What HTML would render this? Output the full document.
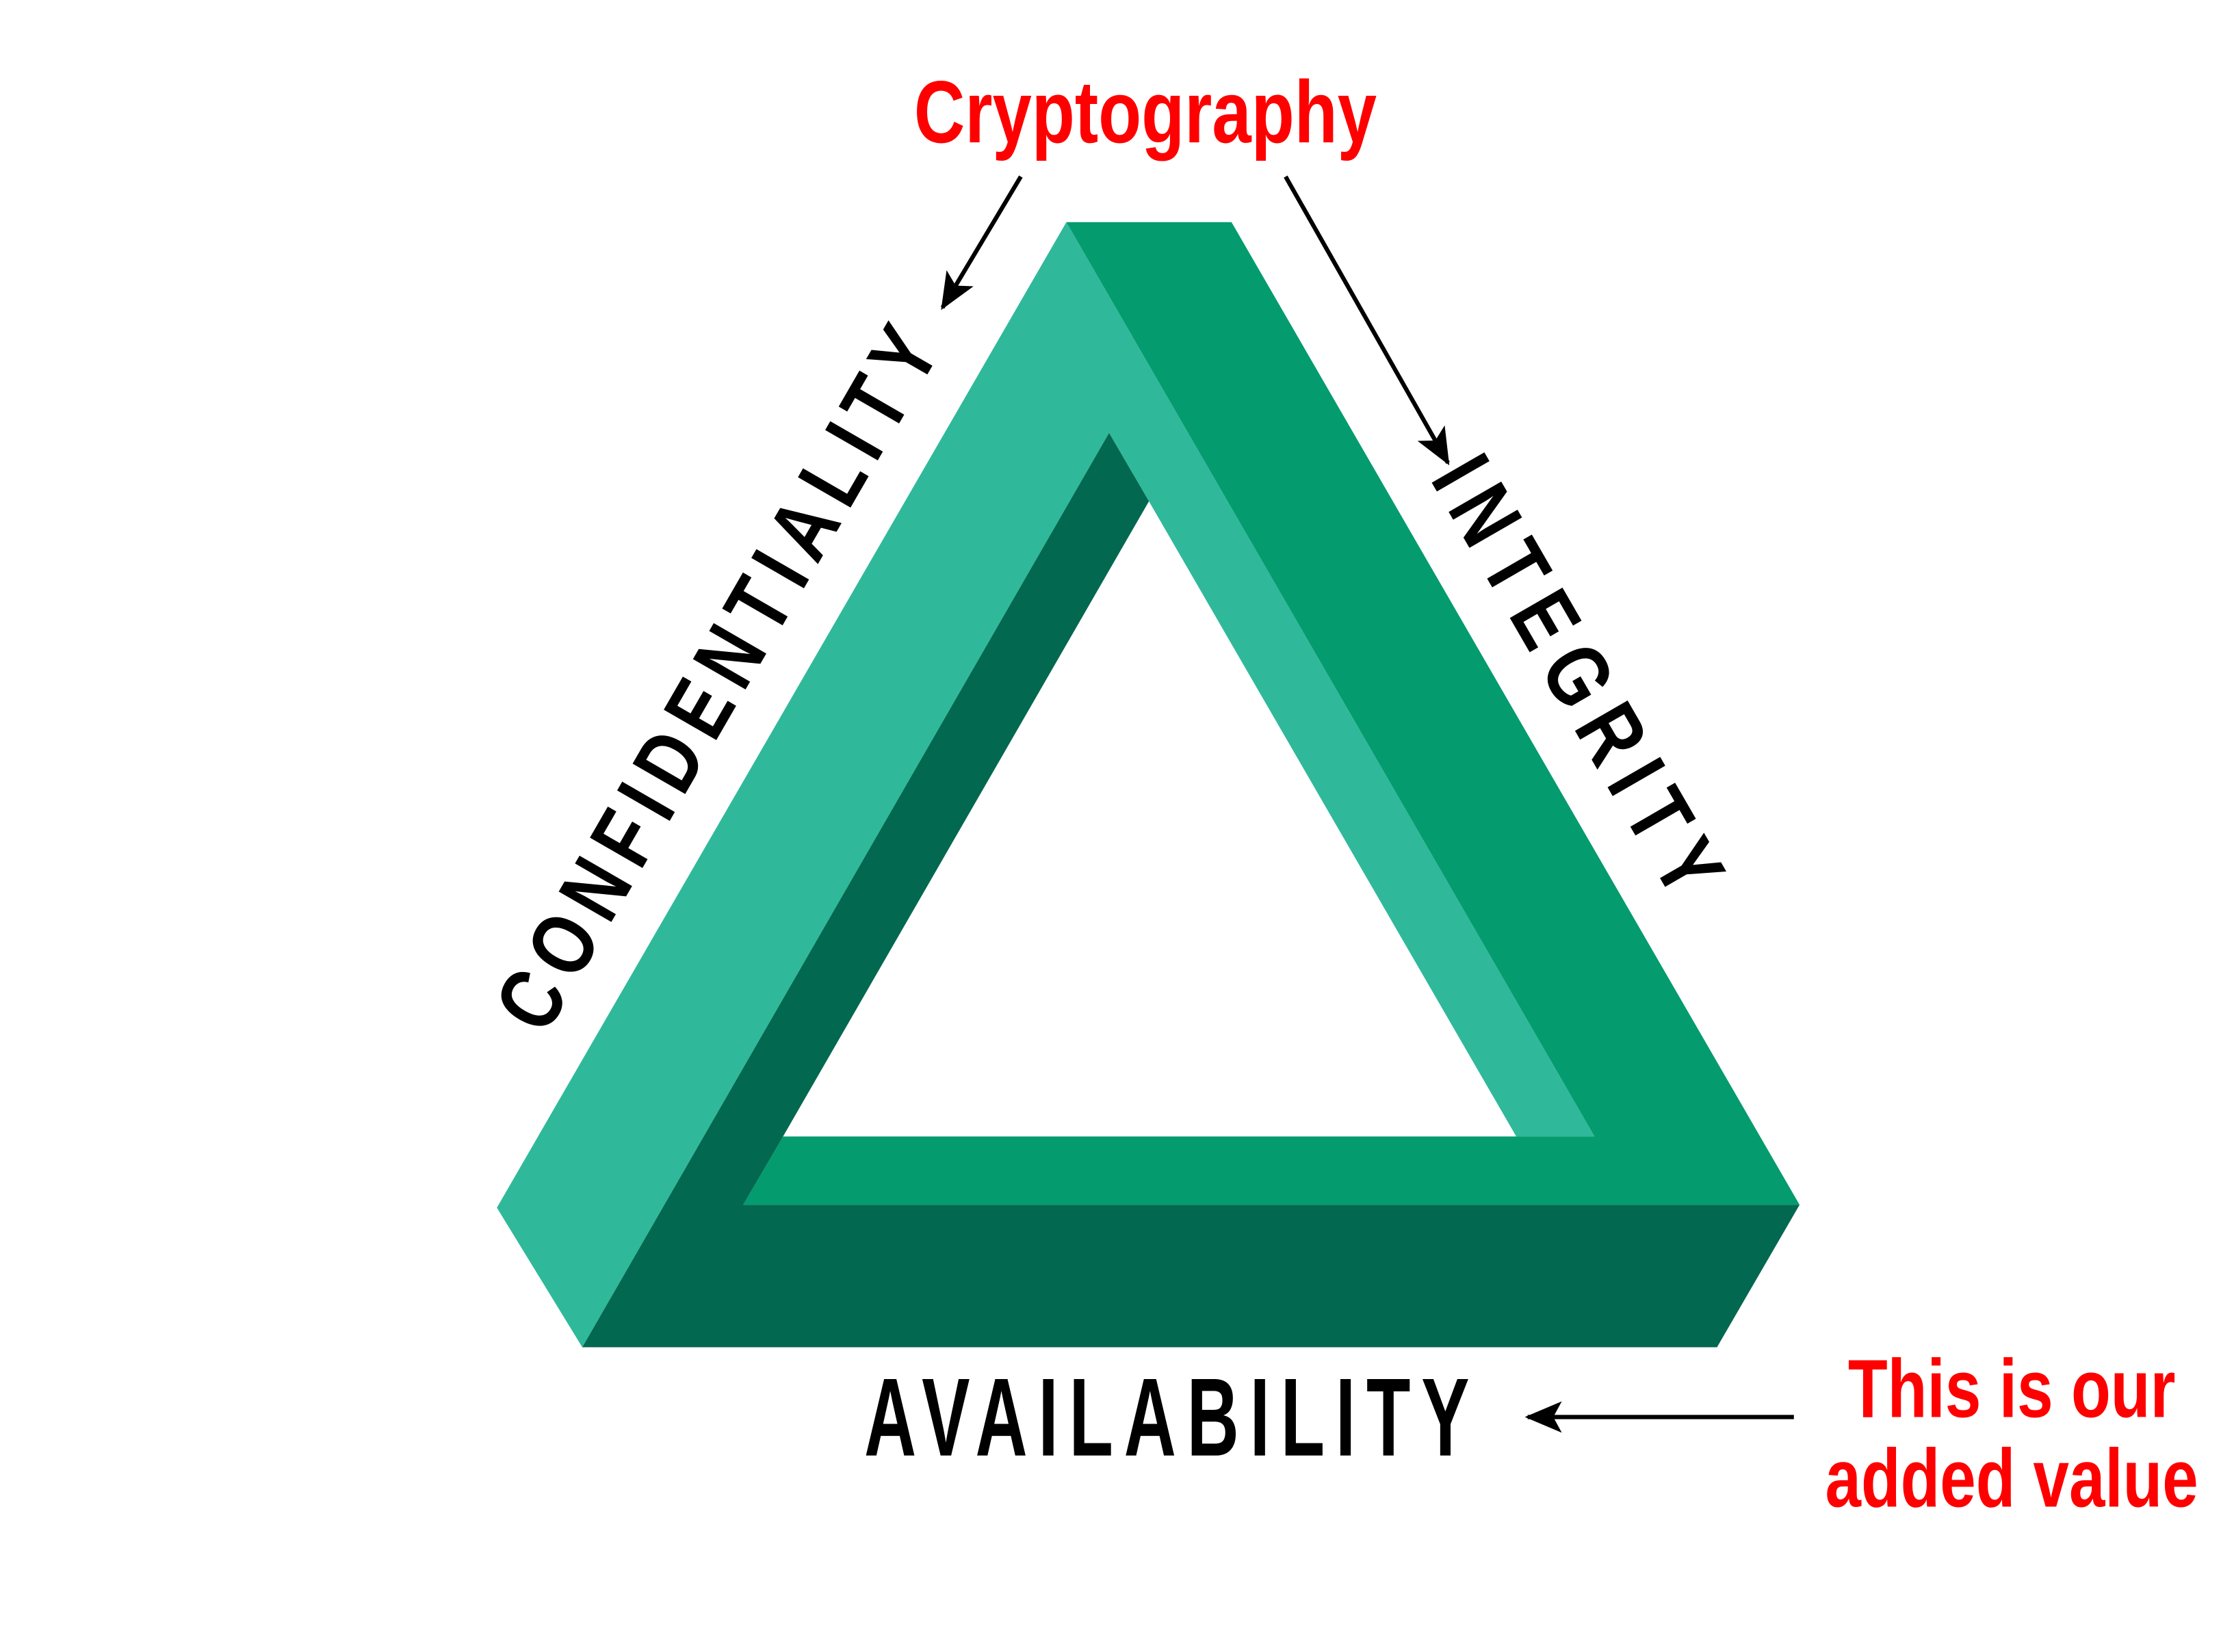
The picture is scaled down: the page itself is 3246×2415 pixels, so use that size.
<!DOCTYPE html>
<html><head><meta charset="utf-8"><style>
html,body{margin:0;padding:0;background:#fff;width:3246px;height:2415px;overflow:hidden}
svg{display:block}
.lbl{font-family:"Liberation Sans",sans-serif;font-weight:bold;fill:#000}
.red{font-family:"Liberation Sans Narrow","Liberation Sans",sans-serif;font-weight:bold;fill:#f00}
</style></head><body>
<svg width="3246" height="2415" viewBox="0 0 1560 1160" preserveAspectRatio="none" xmlns="http://www.w3.org/2000/svg">
<defs>
<marker id="ah2" markerWidth="26" markerHeight="22" refX="24" refY="11" orient="auto" markerUnits="userSpaceOnUse"><path d="M0,0 L26,11 L0,22 L6,11 Z" fill="#000"/></marker></defs>
<polygon fill="#2fb99a" points="749,156 1120,798 1065,798 807,352 779,304 409,946 349,848"/>
<polygon fill="#049b6f" points="749,156 865,156 1264,846 522,846 550,798 1120,798"/>
<polygon fill="#02684f" points="779,304 807,352 550,798 522,846 1264,846 1206,946 409,946"/>
<text class="lbl" font-size="62" text-anchor="middle" textLength="697" lengthAdjust="spacing" transform="translate(522,487) rotate(-60) scale(0.8,1)">CONFIDENTIALITY</text>
<text class="lbl" font-size="62" text-anchor="middle" textLength="430" lengthAdjust="spacing" transform="translate(1090,485) rotate(60) scale(0.8,1)">INTEGRITY</text>
<text class="lbl" font-size="78" transform="translate(607,1022) scale(0.65,1)" textLength="654" lengthAdjust="spacing">AVAILABILITY</text>
<text class="red" font-size="62" x="642" y="100" textLength="325" lengthAdjust="spacingAndGlyphs">Cryptography</text>
<text class="red" font-size="58" x="1298" y="995" textLength="230" lengthAdjust="spacingAndGlyphs">This is our</text>
<text class="red" font-size="58" x="1282" y="1058" textLength="262" lengthAdjust="spacingAndGlyphs">added value</text>
<line x1="717" y1="124" x2="662" y2="216" stroke="#000" stroke-width="3" marker-end="url(#ah2)"/>
<line x1="903" y1="124" x2="1017" y2="325" stroke="#000" stroke-width="3" marker-end="url(#ah2)"/>
<line x1="1260" y1="995" x2="1073" y2="995" stroke="#000" stroke-width="3" marker-end="url(#ah2)"/>
</svg>
</body></html>
